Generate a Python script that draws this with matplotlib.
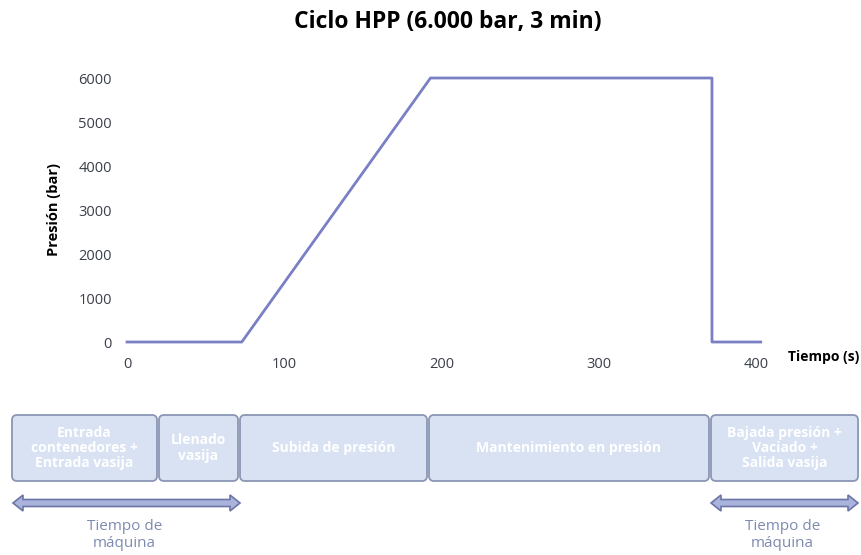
import matplotlib
matplotlib.use("Agg")
import matplotlib.pyplot as plt
from matplotlib.patches import FancyBboxPatch, Polygon

plt.rcParams['font.family'] = ['Open Sans', 'DejaVu Sans']

# ciclo de presión
tiempo = [0, 73, 193, 372, 372, 403]
presion = [0, 0, 6000, 6000, 0, 0]
x_ticks = [0, 100, 200, 300, 400]
y_ticks = [0, 1000, 2000, 3000, 4000, 5000, 6000]

# fases del ciclo (texto de cada caja)
fases = ["Entrada\ncontenedores +\nEntrada vasija",
         "Llenado\nvasija",
         "Subida de presión",
         "Mantenimiento en presión",
         "Bajada presión +\nVaciado +\nSalida vasija"]

W, H = 861, 555
fig = plt.figure(figsize=(W / 100, H / 100), dpi=100)

ax = fig.add_axes([127 / W, 1 - 342 / H, 629 / W, 264 / H])
ax.plot(tiempo, presion, color='#7b7fc4', lw=2, clip_on=False)
ax.set_xlim(0, 400)
ax.set_ylim(0, 6000)
ax.set_xticks(x_ticks)
ax.set_yticks(y_ticks)
ax.tick_params(length=0, labelsize=10.5, colors='#3a3f4a')
ax.tick_params(axis='x', pad=11)
ax.tick_params(axis='y', pad=11)
for s in ax.spines.values():
    s.set_visible(False)
ax.set_ylabel('Presión (bar)', fontsize=10.5, fontweight='bold', labelpad=12)
fig.text(788 / W, 1 - 357 / H, 'Tiempo (s)', fontsize=10, fontweight='bold',
         ha='left', va='center')
fig.text(0.52, 1 - 22 / H, 'Ciclo HPP (6.000 bar, 3 min)', fontsize=16.5,
         fontweight='bold', ha='center', va='center')

# panel inferior en píxeles
lay = fig.add_axes([0, 0, 1, 1])
lay.set_xlim(0, W)
lay.set_ylim(H, 0)
lay.axis('off')

cajas = [(12, 157), (159, 238), (240, 427), (429, 709), (711, 858)]
y0, y1 = 415, 481
for (a, b), txt in zip(cajas, fases):
    box = FancyBboxPatch((a + 5, y0 + 5), b - a - 10, y1 - y0 - 10,
                         boxstyle='round,pad=5', fc='#d9e2f3', ec='#8a96b4', lw=1.3)
    lay.add_patch(box)
    lay.text((a + b) / 2, (y0 + y1) / 2, txt, color='white', fontsize=10,
             fontweight='bold', ha='center', va='center', linespacing=1.1)


def flecha(xa, xb, y):
    sh, hh, hl = 3.5, 8, 10
    pts = [(xa, y), (xa + hl, y - hh), (xa + hl, y - sh), (xb - hl, y - sh),
           (xb - hl, y - hh), (xb, y), (xb - hl, y + hh), (xb - hl, y + sh),
           (xa + hl, y + sh), (xa + hl, y + hh)]
    lay.add_patch(Polygon(pts, closed=True, fc='#aab3dc', ec='#6c76a6', lw=1.2))


for xa, xb in [(13, 240), (711, 858)]:
    flecha(xa, xb, 503)
    lay.text((xa + xb) / 2 - 2, 535, 'Tiempo de\nmáquina', color='#7e8bb0',
             fontsize=11, ha='center', va='center', linespacing=1.25)

fig.savefig('out.png', dpi=100)
